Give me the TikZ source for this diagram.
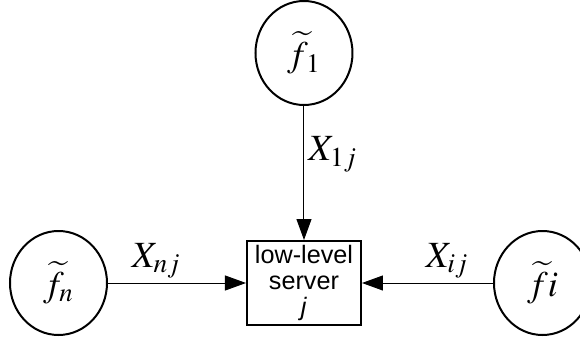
\documentclass[tikz,border=0pt]{standalone}
\usepackage{mathptmx}
\usepackage{fontspec}
\setmainfont{Liberation Serif}
\setsansfont{Liberation Sans}
\usetikzlibrary{shapes.geometric, arrows.meta, positioning}

\begin{document}
\begin{tikzpicture}[
    source/.style={ellipse, draw=black, line width=1pt, minimum width=48.5pt, minimum height=52pt, inner sep=0pt, font=\fontsize{18}{20}\selectfont},
    server/.style={rectangle, draw=black, line width=1pt, minimum width=57pt, minimum height=42pt, text width=56pt, align=center, inner sep=0.5pt, font=\sffamily\fontsize{12.6}{13}\selectfont},
    arrow/.style={line width=0.5pt, -{Triangle[length=10.5pt, width=7.5pt]}},
    flow/.style={font=\fontsize{18.5}{20}\selectfont, inner sep=2pt}
]
\useasboundingbox (-152pt,-28pt) rectangle (138pt,141.5pt);

% Nodes
\node (server) [server] {low-level\\server\\\textit{j}};
\node (f1) [source, above=67pt of server] {$\widetilde{f}_{\,1}$};
\node (fn) [source, left=69pt of server] {$\widetilde{f}_{n}$};
\node (fi) [source, right=65.5pt of server] {$\widetilde{f}i$};

% Arrows
\draw [arrow] (f1) -- node[flow, right, pos=0.36] {$X_{1j}$} (server);
\draw [arrow] (fn) -- node[flow, above, pos=0.35] {$X_{nj}$} (server);
\draw [arrow] (fi) -- node[flow, above, pos=0.35] {$X_{ij}$} (server);

\end{tikzpicture}
\end{document}
